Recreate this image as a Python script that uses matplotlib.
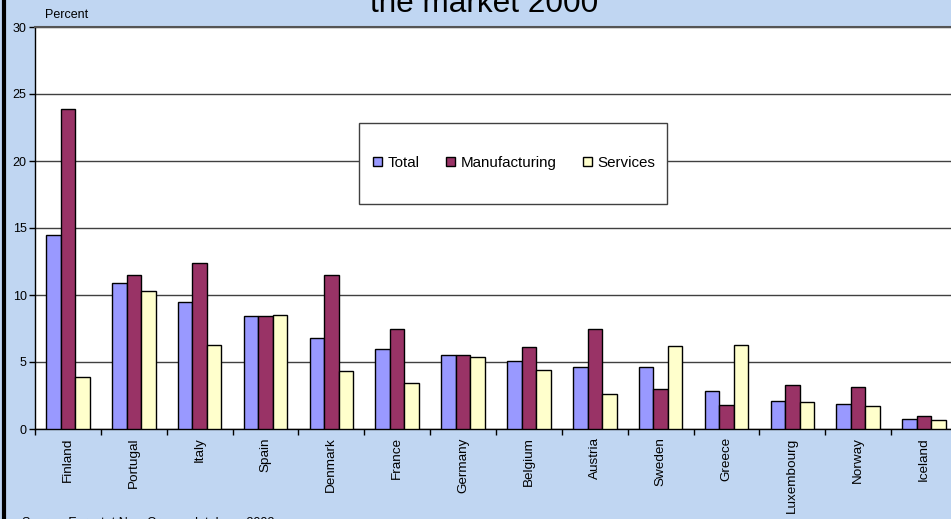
import matplotlib
matplotlib.use("Agg")
import matplotlib.pyplot as plt
from matplotlib.patches import Rectangle
from matplotlib.lines import Line2D
import numpy as np

plt.rcParams['font.family'] = ['Liberation Sans', 'DejaVu Sans']

countries = ["Finland", "Portugal", "Italy", "Spain", "Denmark", "France", "Germany",
             "Belgium", "Austria", "Sweden", "Greece", "Luxembourg", "Norway", "Iceland"]
total = [14.5, 10.9, 9.5, 8.4, 6.8, 6.0, 5.5, 5.1, 4.6, 4.6, 2.8, 2.1, 1.9, 0.75]
manufacturing = [23.9, 11.5, 12.4, 8.4, 11.5, 7.5, 5.5, 6.1, 7.5, 3.0, 1.8, 3.3, 3.1, 0.95]
services = [3.9, 10.3, 6.3, 8.5, 4.3, 3.4, 5.4, 4.4, 2.6, 6.2, 6.3, 2.0, 1.7, 0.65]
series_names = ["Total", "Manufacturing", "Services"]
y_ticks = [0, 5, 10, 15, 20, 25, 30]

W, H = 951, 519
fig = plt.figure(figsize=(W / 100, H / 100), dpi=100)
fig.patch.set_facecolor('#C0D6F2')

ax = fig.add_axes([35 / W, 1 - 429 / H, (957 - 35) / W, (429 - 27) / H])
ax.set_facecolor('white')

x = np.arange(len(countries))
bw = 0.22
colors = ['#9999FF', '#993366', '#FFFFCC']
for i, (vals, c, name) in enumerate(zip([total, manufacturing, services], colors, series_names)):
    ax.bar(x + (i - 1) * bw, vals, width=bw, color=c, edgecolor='black', linewidth=1.0,
           label=name, zorder=3)

ax.set_xlim(-0.5, len(countries) - 0.5)
ax.set_ylim(0, 30)
ax.set_yticks(y_ticks)
ax.set_yticklabels([str(v) for v in y_ticks], fontsize=9)
ax.yaxis.grid(True, color='#404040', linewidth=1.0, zorder=0)
ax.set_axisbelow(True)
ax.tick_params(axis='y', direction='out', length=4, width=1, color='black', pad=2)

ax.set_xticks(x)
ax.set_xticklabels(countries, rotation=90, fontsize=9.7)
ax.tick_params(axis='x', which='major', length=0, pad=6)
ax.set_xticks(np.arange(len(countries) + 1) - 0.5, minor=True)
ax.tick_params(axis='x', which='minor', direction='out', length=4, width=1, color='black')

for s in ['left', 'bottom']:
    ax.spines[s].set_color('black')
    ax.spines[s].set_linewidth(1.0)
ax.spines['top'].set_color('#555555')
ax.spines['top'].set_linewidth(1.5)
ax.spines['right'].set_visible(False)

# legend box
rect = Rectangle((359 / W, 1 - 204 / H), (667 - 359) / W, (204 - 123) / H,
                 transform=fig.transFigure, facecolor='white', edgecolor='#404040',
                 linewidth=1.0, zorder=5)
ax.add_patch(rect)
leg = ax.legend(loc='center', bbox_to_anchor=(514 / W, 1 - 163 / H),
                bbox_transform=fig.transFigure, ncol=3, frameon=False,
                fontsize=10.9, handlelength=0.6, handleheight=0.6,
                handletextpad=0.35, columnspacing=1.75)
leg.set_zorder(6)

fig.text(45 / W, 1 - 15 / H, "Percent", fontsize=9, ha='left', va='center')
fig.text(484 / W, 1 - 12 / H, "the market 2000", fontsize=22.7, ha='center',
         va='baseline')
fig.text(22 / W, 1 - 517 / H, "Source: Eurostat New Cronos database 2002", fontsize=9,
         ha='left', va='top')

fig.add_artist(Line2D([3.5 / W, 3.5 / W], [0, 1], transform=fig.transFigure,
                      color='black', linewidth=3))

fig.savefig("out.png", dpi=100, facecolor=fig.get_facecolor())
